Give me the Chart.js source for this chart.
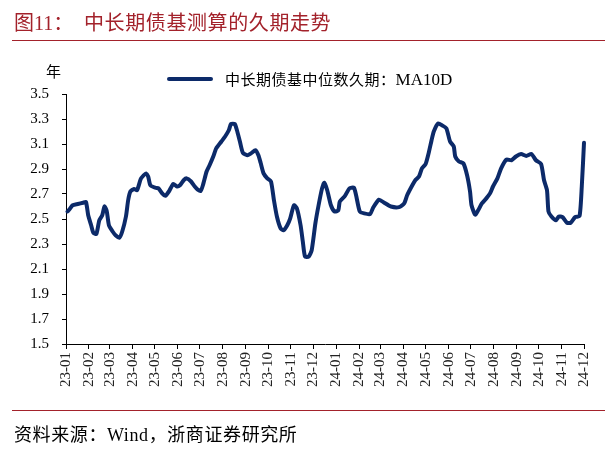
<!DOCTYPE html>
<html>
<head>
<meta charset="utf-8">
<script src="https://cdn.jsdelivr.net/npm/chart.js@4"></script>
<style>
  html, body { margin: 0; padding: 0; background: #fff; }
  #wrap { position: relative; width: 605px; height: 451px; overflow: hidden; }
  #c { position: absolute; left: 0; top: 0; }
  .t { position: absolute; white-space: nowrap; font-family: "Liberation Serif", "Noto Sans CJK SC", serif; }
  .rule { position: absolute; left: 12px; width: 593px; height: 1px; background: #A3222B; }
</style>
</head>
<body>
<div id="wrap">
  <canvas id="c" width="605" height="451"></canvas>
  <div class="t" style="left:14px; top:7px; font-size:20px; color:#A3222B;">图11：</div>
  <div class="t" style="left:84px; top:7px; font-size:20px; letter-spacing:0.6px; color:#A3222B;">中长期债基测算的久期走势</div>
  <div class="rule" style="top:40px;"></div>
  <div class="t" style="left:46px; top:60px; font-size:15px; color:#000;">年</div>
  <div style="position:absolute; left:167px; top:77px; width:46px; height:4px; background:#0C2A69; border-radius:2px;"></div>
  <div class="t" style="left:225px; top:68px; font-size:15px; letter-spacing:0.5px; color:#000;">中长期债基中位数久期：<span style="font-size:17px; letter-spacing:0;">MA10D</span></div>
  <div class="rule" style="top:410px;"></div>
  <div class="t" style="left:14px; top:420px; font-size:18px; letter-spacing:0.6px; color:#000;">资料来源：Wind，浙商证券研究所</div>
</div>
<script>
const monthTicks = ['23-01','23-02','23-03','23-04','23-05','23-06','23-07','23-08','23-09','23-10','23-11','23-12',
                    '24-01','24-02','24-03','24-04','24-05','24-06','24-07','24-08','24-09','24-10','24-11','24-12'];

const yTicks = [1.5, 1.7, 1.9, 2.1, 2.3, 2.5, 2.7, 2.9, 3.1, 3.3, 3.5];

const dates = [
'2023-01-03','2023-01-06','2023-01-10','2023-01-17','2023-01-24','2023-01-28','2023-01-31','2023-02-04','2023-02-07','2023-02-11',
'2023-02-15','2023-02-19','2023-02-22','2023-02-25','2023-02-28','2023-03-05','2023-03-09','2023-03-14','2023-03-18','2023-03-23',
'2023-03-26','2023-03-29','2023-04-03','2023-04-07','2023-04-12','2023-04-16','2023-04-19','2023-04-22','2023-04-25','2023-05-02',
'2023-05-06','2023-05-11','2023-05-15','2023-05-20','2023-05-26','2023-05-31','2023-06-04','2023-06-09','2023-06-13','2023-06-19',
'2023-06-24','2023-06-28','2023-07-02','2023-07-05','2023-07-10','2023-07-14','2023-07-19','2023-07-23','2023-07-30','2023-08-04',
'2023-08-09','2023-08-12','2023-08-17','2023-08-20','2023-08-24','2023-08-28','2023-09-03','2023-09-08','2023-09-14','2023-09-18',
'2023-09-21','2023-09-25','2023-09-30','2023-10-05','2023-10-09','2023-10-13','2023-10-18','2023-10-22','2023-10-27','2023-10-31',
'2023-11-05','2023-11-09','2023-11-14','2023-11-17','2023-11-20','2023-11-25','2023-11-29','2023-12-04','2023-12-08','2023-12-13',
'2023-12-16','2023-12-20','2023-12-25','2023-12-30','2024-01-04','2024-01-06','2024-01-13','2024-01-19','2024-01-25','2024-01-28',
'2024-02-02','2024-02-08','2024-02-16','2024-02-20','2024-02-28','2024-03-06','2024-03-15','2024-03-26','2024-04-02','2024-04-06',
'2024-04-13','2024-04-17','2024-04-22','2024-04-26','2024-05-01','2024-05-05','2024-05-09','2024-05-12','2024-05-18','2024-05-23',
'2024-05-29','2024-06-03','2024-06-08','2024-06-10','2024-06-15','2024-06-21','2024-06-26','2024-06-30','2024-07-02','2024-07-07',
'2024-07-11','2024-07-16','2024-07-22','2024-07-27','2024-07-31','2024-08-06','2024-08-11','2024-08-18','2024-08-25','2024-08-31',
'2024-09-07','2024-09-14','2024-09-21','2024-09-27','2024-10-04','2024-10-08','2024-10-12','2024-10-14','2024-10-18','2024-10-24',
'2024-10-28','2024-11-02','2024-11-08','2024-11-13','2024-11-19','2024-11-25','2024-11-28','2024-12-01'
];

const durationMA10D = [
2.56,2.58,2.61,2.62,2.63,2.635,2.53,2.45,2.39,2.38,
2.49,2.53,2.60,2.565,2.45,2.40,2.37,2.35,2.40,2.52,
2.65,2.72,2.74,2.73,2.82,2.85,2.865,2.84,2.77,2.75,
2.745,2.705,2.685,2.72,2.78,2.76,2.77,2.81,2.825,2.80,
2.76,2.735,2.725,2.77,2.88,2.93,3.00,3.065,3.12,3.16,
3.21,3.26,3.26,3.21,3.12,3.03,3.01,3.025,3.05,3.01,
2.95,2.865,2.825,2.80,2.65,2.52,2.425,2.41,2.45,2.505,
2.61,2.585,2.45,2.32,2.20,2.20,2.25,2.465,2.60,2.745,
2.79,2.73,2.61,2.56,2.57,2.64,2.685,2.745,2.75,2.69,
2.56,2.545,2.54,2.59,2.655,2.63,2.60,2.595,2.625,2.69,
2.77,2.81,2.84,2.905,2.94,3.025,3.13,3.20,3.265,3.25,
3.225,3.12,3.08,3.00,2.96,2.945,2.85,2.72,2.61,2.535,
2.57,2.625,2.665,2.705,2.76,2.825,2.905,2.975,2.97,3.00,
3.02,3.005,3.02,2.97,2.94,2.81,2.73,2.56,2.52,2.49,
2.52,2.515,2.47,2.47,2.515,2.525,2.76,3.11
];

const DAY0 = Date.UTC(2023, 0, 1);
function dayOf(s) {
  const p = s.split('-').map(Number);
  return (Date.UTC(p[0], p[1] - 1, p[2]) - DAY0) / 864e5;
}
const tickDays = monthTicks.map(t => dayOf('20' + t + '-01'));
const points = dates.map((d, i) => ({ x: dayOf(d), y: durationMA10D[i] }));

new Chart(document.getElementById('c'), {
  type: 'line',
  data: {
    datasets: [{
      label: '中长期债基中位数久期：MA10D',
      data: points,
      borderColor: '#0C2A69',
      backgroundColor: '#0C2A69',
      borderWidth: 4,
      pointRadius: 0,
      tension: 0.2,
      borderJoinStyle: 'round',
      borderCapStyle: 'round',
      clip: 6
    }]
  },
  options: {
    responsive: false,
    animation: false,
    devicePixelRatio: 1,
    layout: { padding: { top: 94, right: 15, left: 0, bottom: 47 } },
    plugins: { legend: { display: false }, tooltip: { enabled: false }, title: { display: false } },
    scales: {
      x: {
        type: 'linear',
        min: tickDays[0],
        max: tickDays[tickDays.length - 1],
        afterBuildTicks: s => { s.ticks = tickDays.map(v => ({ value: v })); },
        afterFit: s => { s.height = 60; },
        ticks: {
          autoSkip: false,
          minRotation: 90,
          maxRotation: 90,
          padding: 3,
          color: '#222',
          font: { family: '"Liberation Serif", serif', size: 15 },
          callback: (v, i) => monthTicks[i]
        },
        grid: { display: true, drawOnChartArea: false, drawTicks: true, tickLength: 5, color: '#000', lineWidth: 1 },
        border: { display: true, color: '#000', width: 1 }
      },
      y: {
        min: yTicks[0],
        max: yTicks[yTicks.length - 1],
        afterBuildTicks: s => { s.ticks = yTicks.map(v => ({ value: v })); },
        afterFit: s => { s.width = 66; },
        ticks: {
          autoSkip: false,
          padding: 13,
          color: '#000',
          font: { family: '"Liberation Serif", serif', size: 15 },
          callback: v => Number(v).toFixed(1)
        },
        grid: { display: true, drawOnChartArea: false, drawTicks: true, tickLength: 4, color: '#000', lineWidth: 1 },
        border: { display: true, color: '#000', width: 1 }
      }
    }
  }
});
</script>
</body>
</html>
